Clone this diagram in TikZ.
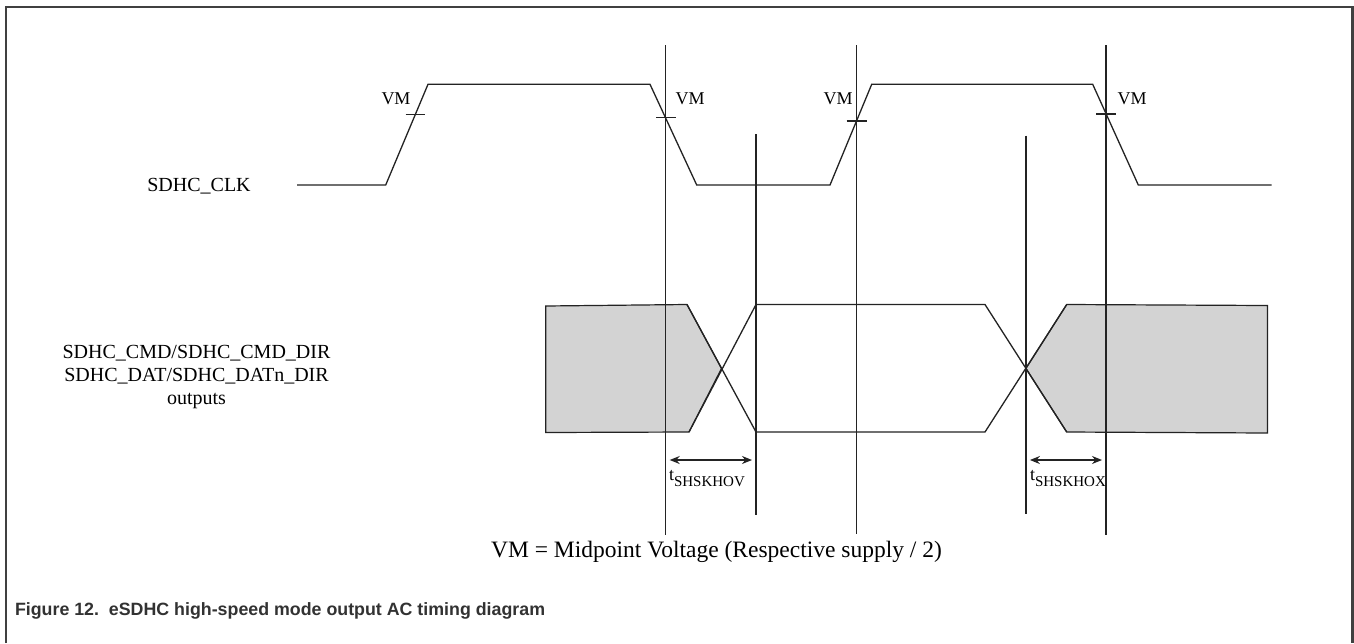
\documentclass[tikz,border=0pt]{standalone}
\usepackage{fontspec}
\setmainfont{Liberation Serif}
\newfontfamily\capfont{Liberation Sans}
\usepackage{tikz}
\usetikzlibrary{arrows.meta}
\definecolor{sigcol}{RGB}{35,35,35}
\definecolor{busgray}{RGB}{211,211,211}
\definecolor{framecol}{RGB}{64,64,64}
\definecolor{capcol}{RGB}{50,50,50}

\begin{document}
\begin{tikzpicture}[x=1pt,y=-1pt,
  sig/.style={draw=sigcol,line width=1.3pt,line join=miter},
  marker/.style={draw=sigcol,line width=1.2pt},
  busbox/.style={fill=busgray,draw=sigcol,line width=1.2pt,line join=miter},
  lbl/.style={inner sep=0pt,outer sep=0pt,anchor=base,text=black,font=\fontsize{18}{22}\selectfont},
  siglbl/.style={lbl,font=\fontsize{20}{23}\selectfont},
  tlbl/.style={inner sep=0pt,outer sep=0pt,anchor=base west,text=black,font=\fontsize{18}{22}\selectfont},
  span/.style={{Stealth[length=10pt,width=8pt]}-{Stealth[length=10pt,width=8pt]},draw=sigcol,line width=1.3pt,shorten <=4pt,shorten >=4pt}]
\path[use as bounding box] (0,0) rectangle (1354,643);
\path[fill=white,draw=none] (0,0) rectangle (1354,643);
\draw[draw=framecol,line width=2.5pt] (6,643) -- (6,7) -- (1352.5,7) -- (1352.5,643);

% clock
\coordinate (c0) at (297,185);
\coordinate (c1) at (385.7,185);
\coordinate (c2) at (428,84.3);
\coordinate (c3) at (650,84.3);
\coordinate (c4) at (696.7,185);
\coordinate (c5) at (830,185);
\coordinate (c6) at (871.7,84.3);
\coordinate (c7) at (1092.7,84.3);
\coordinate (c8) at (1138.3,185);
\coordinate (c9) at (1271.7,185);
\draw[sig] (c0) -- (c1) -- (c2) -- (c3) -- (c4) -- (c5) -- (c6) -- (c7) -- (c8) -- (c9);

% bus
\coordinate (b0) at (545.7,306);
\coordinate (b1) at (687,304.5);
\coordinate (b2) at (689,432);
\coordinate (b3) at (545.7,432.5);
\coordinate (x1) at (721.5,368.5);
\coordinate (w0) at (756,304.5);
\coordinate (w1) at (985,304.5);
\coordinate (w2) at (985,432);
\coordinate (w3) at (756,432);
\coordinate (x2) at (1025.9,368.5);
\coordinate (g0) at (1066.7,304.5);
\coordinate (g1) at (1267.5,305.5);
\coordinate (g2) at (1267.5,433);
\coordinate (g3) at (1066.7,432);
\path[busbox] (b0) -- (b1) -- (x1) -- (b2) -- (b3) -- cycle;
\path[busbox] (x2) -- (g0) -- (g1) -- (g2) -- (g3) -- cycle;
\draw[sig] (b1) -- (w3) -- (w2) -- (g0);
\draw[sig] (b2) -- (w0) -- (w1) -- (g3);

% timing references
\coordinate (v1t) at (665.7,45);
\coordinate (v1b) at (665.7,535);
\coordinate (v2t) at (756,134);
\coordinate (v2b) at (756,515);
\coordinate (v3t) at (856.7,45);
\coordinate (v3b) at (856.7,534);
\coordinate (v4t) at (1025.9,135.7);
\coordinate (v4b) at (1025.9,514);
\coordinate (v5t) at (1106,45);
\coordinate (v5b) at (1106,535);
\foreach \v in {1,...,5}
  \draw[marker] (v\v t) -- (v\v b);

% VM ticks
\draw[marker] (405.7,114.3) -- (425,114.3);
\draw[marker] (656,117.7) -- (676,117.7);
\draw[marker] (846.5,121) -- (866.5,121);
\draw[marker] (1096,114) -- (1116,114);

\node[lbl] (vmA) at (396,104.5) {VM};
\node[lbl] (vmB) at (690,104.5) {VM};
\node[lbl] (vmC) at (838,104.5) {VM};
\node[lbl] (vmD) at (1132,104.5) {VM};

\node[siglbl] (clklbl) at (199,191.5) {SDHC\_CLK};
\node[siglbl] (cmdlbl) at (196.5,358.5) {SDHC\_CMD/SDHC\_CMD\_DIR};
\node[siglbl] (datlbl) at (196.5,381.5) {SDHC\_DAT/SDHC\_DATn\_DIR};
\node[siglbl] (outlbl) at (196.5,404) {outputs};

% skew arrows
\coordinate (a1l) at (665.7,460);
\coordinate (a1r) at (756,460);
\coordinate (a2l) at (1025.9,460);
\coordinate (a2r) at (1106,460);
\draw[span] (a1l) -- (a1r);
\draw[span] (a2l) -- (a2r);
\node[tlbl] (tovlbl) at (669,480) {t\raisebox{-6pt}{\fontsize{15}{15}\selectfont SHSKHOV}};
\node[tlbl] (toxlbl) at (1030,480) {t\raisebox{-6pt}{\fontsize{15}{15}\selectfont SHSKHOX}};

\node[lbl,font=\fontsize{23.5}{28}\selectfont] (notelbl) at (716.5,557) {VM = Midpoint Voltage (Respective supply / 2)};

\node[inner sep=0pt,outer sep=0pt,anchor=base west,text=capcol,font=\capfont\bfseries\fontsize{17.8}{21}\selectfont] (figcap) at (15,615) {Figure 12.\ \ eSDHC high-speed mode output AC timing diagram};
\end{tikzpicture}
\end{document}
